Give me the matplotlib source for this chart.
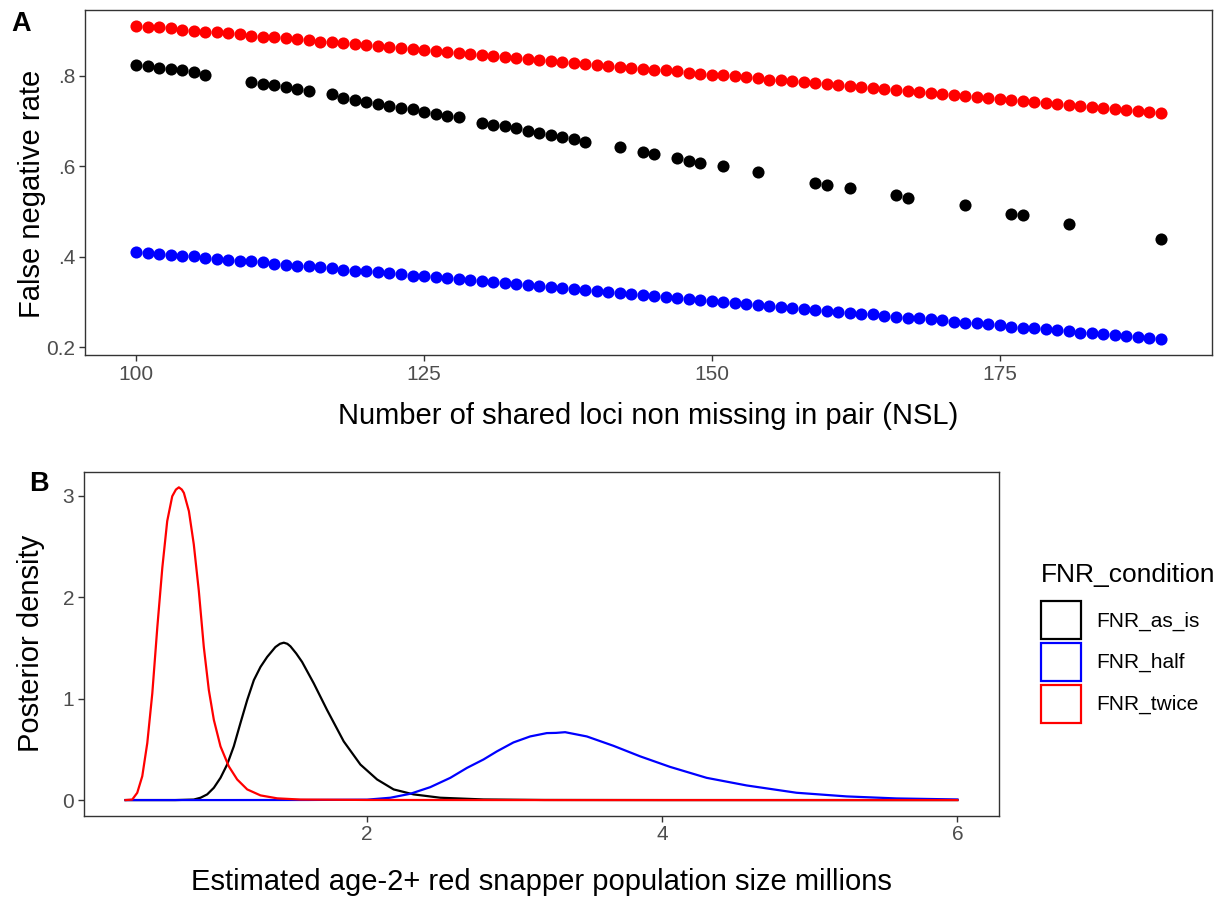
import matplotlib
matplotlib.use("Agg")
import matplotlib.pyplot as plt
from matplotlib.patches import Patch
from matplotlib.ticker import FixedLocator, FixedFormatter

plt.rcParams['font.family'] = ['Liberation Sans', 'DejaVu Sans']

# ---------------- Panel A data ----------------
nsl = list(range(100, 190))

fnr_twice = [
    0.911, 0.909, 0.907, 0.905, 0.902, 0.900, 0.898, 0.896, 0.894, 0.892,
    0.889, 0.887, 0.885, 0.883, 0.881, 0.879, 0.876, 0.874, 0.872, 0.870,
    0.868, 0.866, 0.864, 0.861, 0.859, 0.857, 0.855, 0.853, 0.851, 0.848,
    0.846, 0.844, 0.842, 0.840, 0.838, 0.836, 0.833, 0.831, 0.829, 0.827,
    0.825, 0.823, 0.820, 0.818, 0.816, 0.814, 0.812, 0.810, 0.807, 0.805,
    0.803, 0.801, 0.799, 0.797, 0.795, 0.792, 0.790, 0.788, 0.786, 0.784,
    0.782, 0.779, 0.777, 0.775, 0.773, 0.771, 0.769, 0.766, 0.764, 0.762,
    0.760, 0.758, 0.756, 0.754, 0.751, 0.749, 0.747, 0.745, 0.743, 0.741,
    0.738, 0.736, 0.734, 0.732, 0.730, 0.728, 0.725, 0.723, 0.721, 0.719,
]

fnr_half = [
    0.412, 0.409, 0.407, 0.405, 0.403, 0.401, 0.398, 0.396, 0.394, 0.392,
    0.390, 0.388, 0.385, 0.383, 0.381, 0.379, 0.377, 0.375, 0.372, 0.370,
    0.368, 0.366, 0.364, 0.362, 0.359, 0.357, 0.355, 0.353, 0.351, 0.349,
    0.346, 0.344, 0.342, 0.340, 0.338, 0.336, 0.333, 0.331, 0.329, 0.327,
    0.325, 0.322, 0.320, 0.318, 0.316, 0.314, 0.312, 0.309, 0.307, 0.305,
    0.303, 0.301, 0.299, 0.296, 0.294, 0.292, 0.290, 0.288, 0.286, 0.283,
    0.281, 0.279, 0.277, 0.275, 0.273, 0.270, 0.268, 0.266, 0.264, 0.262,
    0.260, 0.257, 0.255, 0.253, 0.251, 0.249, 0.246, 0.244, 0.242, 0.240,
    0.238, 0.236, 0.233, 0.231, 0.229, 0.227, 0.225, 0.223, 0.220, 0.218,
]

obs_nsl = [100, 101, 102, 103, 104, 105, 106,
           110, 111, 112, 113, 114, 115,
           117, 118, 119, 120, 121, 122, 123, 124, 125, 126, 127, 128,
           130, 131, 132, 133, 134, 135, 136, 137, 138, 139,
           142, 144, 145, 147, 148, 149, 151, 154, 159, 160, 162,
           166, 167, 172, 176, 177, 181, 189]
obs_fnr = [0.825, 0.822, 0.818, 0.815, 0.812, 0.808, 0.802,
           0.787, 0.783, 0.779, 0.775, 0.771, 0.767,
           0.759, 0.752, 0.747, 0.743, 0.738, 0.734, 0.729, 0.726, 0.721, 0.716, 0.711, 0.709,
           0.697, 0.692, 0.689, 0.684, 0.679, 0.674, 0.669, 0.665, 0.661, 0.655,
           0.642, 0.631, 0.628, 0.618, 0.612, 0.608, 0.600, 0.588, 0.564, 0.560, 0.552,
           0.536, 0.530, 0.514, 0.496, 0.492, 0.473, 0.440]

a_xticks = [100, 125, 150, 175]
a_yticks = [0.2, 0.4, 0.6, 0.8]
a_ytick_labels = ["0.2", ".4", ".6", ".8"]

# ---------------- Panel B data ----------------
size_twice = [0.364, 0.409, 0.443, 0.477, 0.511, 0.545, 0.579, 0.613, 0.646, 0.680,
              0.705, 0.725, 0.745, 0.759, 0.793, 0.826, 0.860, 0.894, 0.928, 0.962,
              1.007, 1.063, 1.120, 1.188, 1.278, 1.391, 1.549, 2.000, 3.000, 4.000,
              5.000, 6.000]
dens_twice = [0.000, 0.005, 0.072, 0.235, 0.562, 1.052, 1.704, 2.292, 2.749, 2.994,
              3.060, 3.082, 3.060, 3.027, 2.847, 2.521, 2.064, 1.508, 1.084, 0.790,
              0.529, 0.333, 0.203, 0.105, 0.046, 0.017, 0.005, 0.001, 0.000, 0.000,
              0.000, 0.000]

size_as_is = [0.364, 0.700, 0.826, 0.872, 0.917, 0.962, 1.007, 1.052, 1.097, 1.142,
              1.188, 1.233, 1.278, 1.323, 1.379, 1.410, 1.436, 1.460, 1.481, 1.520,
              1.560, 1.639, 1.729, 1.842, 1.955, 2.068, 2.180, 2.315, 2.496, 2.789,
              3.200, 4.000, 5.000, 6.000]
dens_as_is = [0.000, 0.000, 0.005, 0.023, 0.056, 0.121, 0.219, 0.350, 0.529, 0.758,
              0.986, 1.182, 1.312, 1.410, 1.508, 1.540, 1.551, 1.540, 1.515, 1.445,
              1.361, 1.150, 0.888, 0.578, 0.350, 0.203, 0.105, 0.056, 0.023, 0.006,
              0.001, 0.000, 0.000, 0.000]

size_half = [0.364, 1.000, 1.600, 2.000, 2.158, 2.293, 2.428, 2.564, 2.677, 2.789,
             2.880, 2.992, 3.105, 3.218, 3.280, 3.342, 3.489, 3.669, 3.850, 4.053,
             4.301, 4.572, 4.910, 5.249, 5.587, 6.000]
dens_half = [0.000, 0.000, 0.001, 0.004, 0.023, 0.062, 0.127, 0.219, 0.317, 0.400,
             0.480, 0.568, 0.627, 0.660, 0.662, 0.669, 0.627, 0.535, 0.431, 0.327,
             0.219, 0.144, 0.072, 0.036, 0.016, 0.006]

b_xticks = [2, 4, 6]
b_yticks = [0, 1, 2, 3]

conditions = ["FNR_as_is", "FNR_half", "FNR_twice"]
colors = {"FNR_as_is": "#000000", "FNR_half": "#0000FF", "FNR_twice": "#FF0000"}

# ---------------- Figure ----------------
W, H = 1227, 897
fig = plt.figure(figsize=(W / 100, H / 100), dpi=100)

frame_col = "#333333"
tick_col = "#4D4D4D"


def style_axes(ax):
    for sp in ax.spines.values():
        sp.set_color(frame_col)
        sp.set_linewidth(1.0)
    ax.tick_params(axis="both", length=4, width=1.0, color=frame_col,
                   labelcolor=tick_col, labelsize=15, pad=3)


# Panel A: false negative rate vs shared loci
axA = fig.add_axes([85 / W, 1 - 355 / H, 1127 / W, 345 / H])
axA.scatter(nsl, fnr_twice, s=76, color=colors["FNR_twice"], linewidths=0, zorder=3)
axA.scatter(nsl, fnr_half, s=76, color=colors["FNR_half"], linewidths=0, zorder=3)
axA.scatter(obs_nsl, obs_fnr, s=76, color=colors["FNR_as_is"], linewidths=0, zorder=3)
axA.margins(x=0.05, y=0.05)
axA.xaxis.set_major_locator(FixedLocator(a_xticks))
axA.yaxis.set_major_locator(FixedLocator(a_yticks))
axA.yaxis.set_major_formatter(FixedFormatter(a_ytick_labels))
style_axes(axA)
axA.set_xlabel("Number of shared loci non missing in pair (NSL)", fontsize=21)
axA.set_ylabel("False negative rate", fontsize=21)
axA.xaxis.set_label_coords(0.5, -(402 - 355) / 345)
axA.yaxis.set_label_coords((46 - 85) / 1127, 0.468)

# Panel B: posterior density of population size
axB = fig.add_axes([84 / W, 1 - 815.7 / H, 915 / W, 344 / H])
curves = {
    "FNR_as_is": (size_as_is, dens_as_is),
    "FNR_half": (size_half, dens_half),
    "FNR_twice": (size_twice, dens_twice),
}
for cond in conditions:
    xs, ys = curves[cond]
    axB.plot(xs, ys, color=colors[cond], lw=1.6, solid_joinstyle="round")
axB.margins(x=0.05, y=0.05)
axB.xaxis.set_major_locator(FixedLocator(b_xticks))
axB.yaxis.set_major_locator(FixedLocator(b_yticks))
style_axes(axB)
axB.set_xlabel("Estimated age-2+ red snapper population size millions", fontsize=21)
axB.set_ylabel("Posterior density", fontsize=21)
axB.xaxis.set_label_coords(0.5, -(868 - 815.7) / 344)
axB.yaxis.set_label_coords((45 - 84) / 915, 0.5)

# Legend: title drawn separately so the gap above the keys can be set freely
fig.text(1041 / W, 1 - 575 / H, "FNR_condition", fontsize=19, ha="left", va="center")
handles = [Patch(facecolor="white", edgecolor=colors[c], linewidth=1.6, label=c)
           for c in conditions]
leg = fig.legend(handles=handles, loc="upper left",
                 bbox_to_anchor=(1041 / W, 1 - 601 / H), frameon=False,
                 fontsize=15, handlelength=1.9, handleheight=2.43,
                 labelspacing=0.18, handletextpad=0.75, borderpad=0, borderaxespad=0)

fig.text(21 / W, 1 - 24 / H, "A", fontsize=19.5, fontweight="bold", ha="center", va="center")
fig.text(39 / W, 1 - 484 / H, "B", fontsize=19.5, fontweight="bold", ha="center", va="center")

fig.savefig("out.png", dpi=100, facecolor="white")
